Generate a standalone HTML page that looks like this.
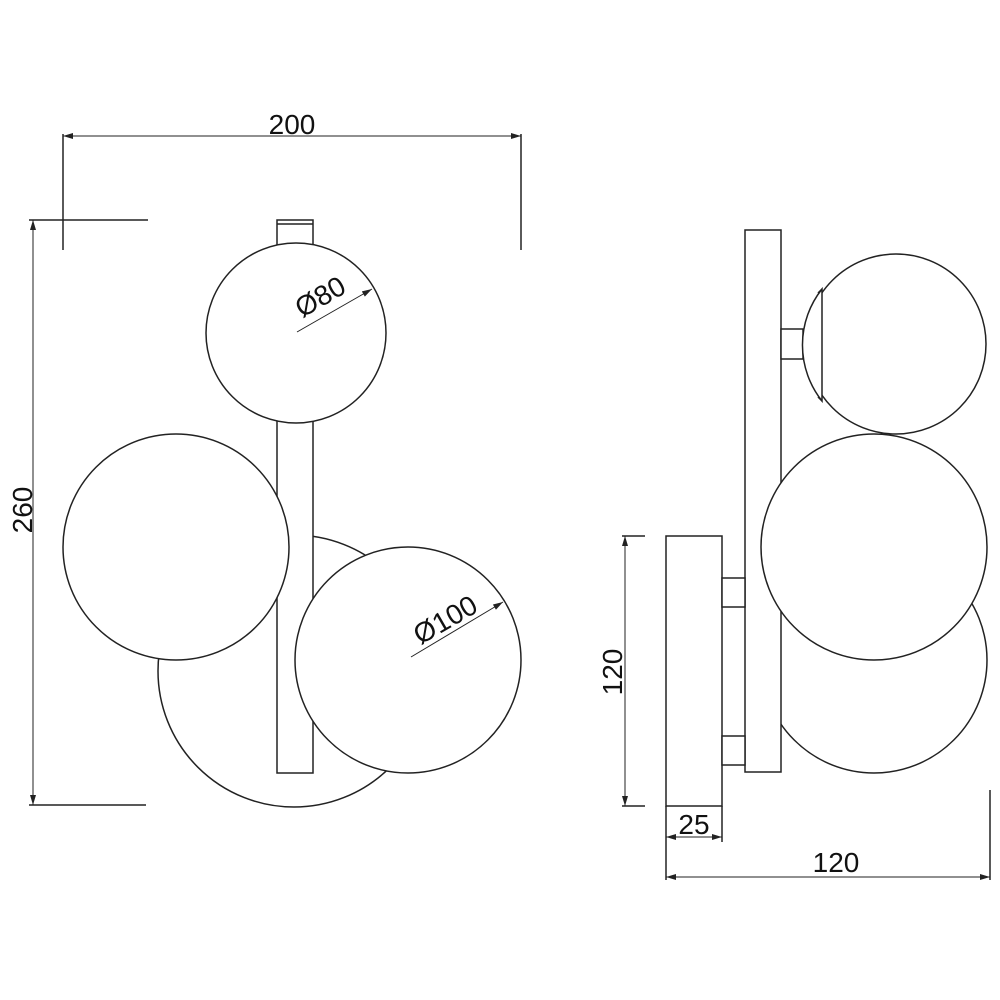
<!DOCTYPE html>
<html><head><style>html,body{margin:0;padding:0;background:#fff}svg{display:block}</style></head>
<body>
<svg width="1000" height="1000" viewBox="0 0 1000 1000" xmlns="http://www.w3.org/2000/svg">
<defs>
<marker id="a" viewBox="0 0 10 6" refX="10" refY="3" markerWidth="12" markerHeight="6" markerUnits="userSpaceOnUse" orient="auto-start-reverse"><path d="M0,0 L10,3 L0,6 Z" fill="#222"/></marker>
</defs>
<g fill="none" stroke="#222" stroke-width="1.5">
<!-- front view dims -->
<line x1="63" y1="136" x2="521" y2="136" stroke-width="1" marker-start="url(#a)" marker-end="url(#a)"/>
<line x1="63" y1="134" x2="63" y2="250"/>
<line x1="521" y1="134" x2="521" y2="250"/>
<line x1="29" y1="220" x2="148" y2="220"/>
<line x1="29" y1="805" x2="146" y2="805"/>
<line x1="33" y1="220" x2="33" y2="805" stroke-width="1" marker-start="url(#a)" marker-end="url(#a)"/>
<!-- back circle -->
<circle cx="294" cy="671" r="136" fill="#fff"/>
<!-- stem -->
<rect x="277" y="220" width="36" height="553" fill="#fff"/>
<line x1="277" y1="224" x2="313" y2="224"/>
<circle cx="296" cy="333" r="90" fill="#fff"/>
<circle cx="176" cy="547" r="113" fill="#fff"/>
<circle cx="408" cy="660" r="113" fill="#fff"/>
<line x1="297" y1="332" x2="372" y2="289" stroke-width="1" marker-end="url(#a)"/>
<line x1="411" y1="657" x2="503" y2="602" stroke-width="1" marker-end="url(#a)"/>
<!-- side view -->
<circle cx="874" cy="660" r="113" fill="#fff"/>
<rect x="745" y="230" width="36" height="542" fill="#fff"/>
<circle cx="874" cy="547" r="113" fill="#fff"/>
<circle cx="896" cy="344" r="90" fill="#fff"/>
<rect x="781" y="329" width="22" height="30" fill="#fff"/>
<path d="M822,289 A90,90 0 0 0 822,401 Z" fill="#fff"/>
<path d="M822,289 L818,293 M822,401 L818,397"/>
<rect x="666" y="536" width="56" height="270" fill="#fff"/>
<rect x="722" y="578" width="23" height="29" fill="#fff"/>
<rect x="722" y="736" width="23" height="29" fill="#fff"/>
<line x1="622" y1="536" x2="645" y2="536"/>
<line x1="622" y1="806" x2="645" y2="806"/>
<line x1="625" y1="536" x2="625" y2="806" stroke-width="1" marker-start="url(#a)" marker-end="url(#a)"/>
<line x1="666" y1="806" x2="666" y2="880"/>
<line x1="722" y1="806" x2="722" y2="842"/>
<line x1="990" y1="790" x2="990" y2="880"/>
<line x1="666" y1="837" x2="722" y2="837" stroke-width="1" marker-start="url(#a)" marker-end="url(#a)"/>
<line x1="666" y1="877" x2="990" y2="877" stroke-width="1" marker-start="url(#a)" marker-end="url(#a)"/>
</g>
<g font-family="Liberation Sans, sans-serif" font-size="28" fill="#111" text-anchor="middle">
<text x="292" y="134">200</text>
<text transform="translate(32,510) rotate(-90)">260</text>
<text transform="translate(325,305) rotate(-30)">Ø80</text>
<text transform="translate(450,628) rotate(-30)">Ø100</text>
<text transform="translate(622,672) rotate(-90)">120</text>
<text x="694" y="834">25</text>
<text x="836" y="872">120</text>
</g>
</svg>
</body></html>
